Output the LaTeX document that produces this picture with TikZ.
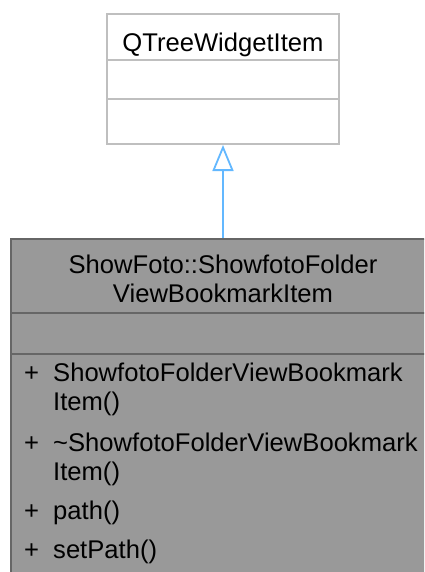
\documentclass[tikz,border=0pt]{standalone}
\usepackage{fontspec}
\setmainfont{Liberation Sans}
\usetikzlibrary{arrows.meta}
\definecolor{basegray}{HTML}{BFBFBF}
\definecolor{dergray}{HTML}{999999}
\definecolor{derborder}{HTML}{666666}
\definecolor{inhblue}{HTML}{63B8FF}
\tikzset{
  txt/.style={inner sep=0pt, font=\fontsize{25.6}{29}\selectfont},
  basebox/.style={draw=basegray, fill=white, line width=2pt, inner sep=0pt},
  derbox/.style={draw=derborder, fill=dergray, line width=2pt, inner sep=0pt},
  inherit/.style={draw=inhblue, line width=1.8pt, -{Triangle[open, length=26pt, width=21pt, fill=white]}}
}
\begin{document}
\begin{tikzpicture}[x=1pt, y=-1pt]
\useasboundingbox (0,0) rectangle (424,572);
\clip (0,0) rectangle (424,572);
% base class
\node[basebox, minimum width=232pt, minimum height=130pt, anchor=north] (base) at (223,13) {};
\draw[basegray, line width=2pt] (107,60) -- (339,60);
\draw[basegray, line width=2pt] (107,99) -- (339,99);
\node[txt, anchor=base] (basetitle) at (223,52) {QTreeWidgetItem};
% derived class
\node[derbox, minimum width=424pt, minimum height=380pt, anchor=north] (der) at (223,238) {};
\draw[derborder, line width=2pt] (11,313) -- (435,313);
\draw[derborder, line width=2pt] (11,354) -- (435,354);
\node[txt, anchor=base] (t1) at (223,273.5) {ShowFoto::ShowfotoFolder};
\node[txt, anchor=base] (t2) at (223,302) {ViewBookmarkItem};
\node[txt, anchor=base west] (p1) at (24,381) {+};
\node[txt, anchor=base west] (m1) at (53,381) {ShowfotoFolderViewBookmark};
\node[txt, anchor=base west] (m1b) at (53,410) {Item()};
\node[txt, anchor=base west] (p2) at (24,451) {+};
\node[txt, anchor=base west] (m2) at (53,451) {\char`\~ShowfotoFolderViewBookmark};
\node[txt, anchor=base west] (m2b) at (53,480) {Item()};
\node[txt, anchor=base west] (p3) at (24,519) {+};
\node[txt, anchor=base west] (m3) at (53,519) {path()};
\node[txt, anchor=base west] (p4) at (24,558) {+};
\node[txt, anchor=base west] (m4) at (53,558) {setPath()};
% inheritance
\draw[inherit] (der.north) -- (base.south);
\end{tikzpicture}
\end{document}
